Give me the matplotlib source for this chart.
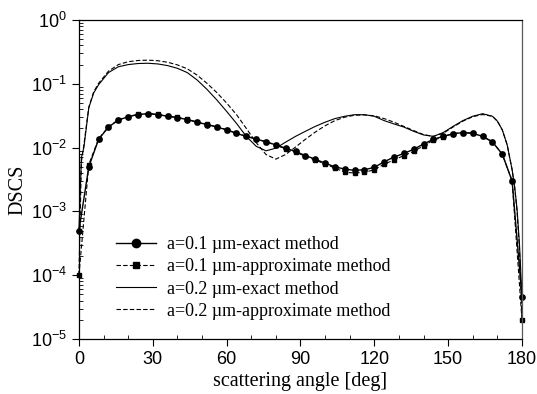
import numpy as np
import matplotlib
matplotlib.use("Agg")
import matplotlib.pyplot as plt
from matplotlib.lines import Line2D
from matplotlib.ticker import LogLocator, MultipleLocator

# a = 0.1 um curves, one value every 4 deg (markers on each point)
angle_01 = list(range(0, 181, 4))
exact_01 = [5e-4, 5.0e-3, 0.0135, 0.021, 0.027, 0.0305, 0.033, 0.034, 0.033, 0.031,
            0.0295, 0.0275, 0.025, 0.023, 0.021, 0.019, 0.0167, 0.015, 0.0136, 0.0124,
            0.011, 0.0098, 0.0087, 0.0075, 0.0066, 0.0057, 0.0050, 0.0046, 0.0044, 0.0045,
            0.0049, 0.0060, 0.0071, 0.0081, 0.0094, 0.0114, 0.0135, 0.0150, 0.0165, 0.0172,
            0.0168, 0.0150, 0.0123, 0.0079, 0.0030, 4.5e-5]
approx_01 = [1e-4, 5.4e-3, 0.0138, 0.0212, 0.0272, 0.0307, 0.0332, 0.0341, 0.0332, 0.0312,
             0.0297, 0.0277, 0.0252, 0.0232, 0.0212, 0.0191, 0.0168, 0.0151, 0.0136, 0.0123,
             0.0109, 0.0096, 0.0085, 0.0073, 0.0064, 0.0055, 0.0048, 0.0041, 0.0040, 0.0041,
             0.0045, 0.0055, 0.0064, 0.0075, 0.0087, 0.0107, 0.0130, 0.0148, 0.0165, 0.0172,
             0.0168, 0.0150, 0.0123, 0.0079, 0.0030, 2e-5]

# a = 0.2 um curves
angle_02 = [0, 1, 2, 4, 6, 8, 12, 16, 20, 24, 28, 32, 36, 40, 44, 48, 52, 56, 60, 64,
            68, 72, 76, 80, 84, 88, 92, 96, 100, 104, 108, 112, 116, 120, 124, 128, 132,
            136, 140, 144, 148, 152, 156, 160, 164, 168, 170, 172, 174, 176, 177, 178, 179, 180]
exact_02 = [5e-4, 7e-3, 0.010, 0.042, 0.072, 0.097, 0.150, 0.185, 0.200, 0.208, 0.210, 0.205,
            0.193, 0.175, 0.150, 0.115, 0.082, 0.056, 0.037, 0.024, 0.015, 0.0105, 0.0089,
            0.0098, 0.0122, 0.0150, 0.0180, 0.0215, 0.0250, 0.0285, 0.0310, 0.0328, 0.0328,
            0.0310, 0.0265, 0.0235, 0.0210, 0.0180, 0.0158, 0.0150, 0.0172, 0.0215, 0.0265,
            0.0310, 0.0340, 0.0310, 0.0260, 0.0190, 0.0110, 4.5e-3, 2.5e-3, 1.1e-3, 3e-4, 4.5e-5]
approx_02 = [1e-4, 6e-3, 0.011, 0.043, 0.075, 0.102, 0.158, 0.200, 0.222, 0.232, 0.235, 0.230,
             0.218, 0.198, 0.172, 0.137, 0.102, 0.073, 0.050, 0.033, 0.020, 0.012, 0.0078,
             0.0066, 0.0078, 0.0102, 0.0135, 0.0175, 0.0220, 0.0265, 0.0300, 0.0322, 0.0325,
             0.0315, 0.0285, 0.0250, 0.0215, 0.0185, 0.0160, 0.0150, 0.0168, 0.0210, 0.0260,
             0.0305, 0.0330, 0.0310, 0.0260, 0.0190, 0.0110, 4.5e-3, 2.4e-3, 1.0e-3, 2.5e-4, 2e-5]

labels = ["a=0.1 \u00b5m-exact method", "a=0.1 \u00b5m-approximate method",
          "a=0.2 \u00b5m-exact method", "a=0.2 \u00b5m-approximate method"]

plt.rcParams['mathtext.default'] = 'regular'
sans = 'Liberation Sans'
serif = 'Liberation Serif'

fig = plt.figure(figsize=(5.37, 3.94), dpi=100)
ax = fig.add_axes([0.147, 0.1396, 0.825, 0.8096])

dash = (4, 2)
ax.plot(angle_02, exact_02, color='black', lw=0.8, clip_on=False)
ax.plot(angle_02, approx_02, color='black', lw=0.8, dashes=dash, clip_on=False)
ax.plot(angle_01, approx_01, color='black', lw=0.8, dashes=dash, marker='s', ms=3.3,
        clip_on=False)
ax.plot(angle_01, exact_01, color='black', lw=1.0, marker='o', ms=3.8, clip_on=False)

ax.set_yscale('log')
ax.set_xlim(0, 180)
ax.set_ylim(1e-5, 1)

ax.xaxis.set_major_locator(MultipleLocator(30))
ax.xaxis.set_minor_locator(MultipleLocator(10))
ax.yaxis.set_minor_locator(LogLocator(base=10, subs=np.arange(2, 10), numticks=20))
ax.set_yticks([10.0 ** k for k in range(-5, 1)])
ax.set_yticklabels([r'$10^{%d}$' % k for k in range(-5, 1)])

ax.tick_params(which='major', direction='out', length=5, width=0.8, labelsize=13)
ax.tick_params(which='minor', direction='in', length=3, width=0.6)
for lab in ax.get_xticklabels() + ax.get_yticklabels():
    lab.set_fontfamily(sans)

for side in ['top', 'bottom', 'left']:
    ax.spines[side].set_linewidth(0.9)
ax.spines['right'].set_color('0.35')
ax.spines['right'].set_linewidth(0.9)

ax.set_xlabel('scattering angle [deg]', fontfamily=serif, fontsize=14.5, labelpad=3)
ax.set_ylabel('DSCS', fontfamily=serif, fontsize=14.5)
ax.yaxis.set_label_coords(-0.117, 0.467)

handles = [
    Line2D([], [], color='black', lw=1.0, marker='o', ms=6),
    Line2D([], [], color='black', lw=0.8, dashes=dash, marker='s', ms=4.6),
    Line2D([], [], color='black', lw=0.8),
    Line2D([], [], color='black', lw=0.8, dashes=dash),
]
ax.legend(handles, labels, loc='lower left', bbox_to_anchor=(0.048, 0.01),
          frameon=False, prop={'family': serif, 'size': 13},
          handlelength=2.2, handletextpad=0.6, labelspacing=0.28)

fig.savefig('out.png', dpi=100, facecolor='white')
